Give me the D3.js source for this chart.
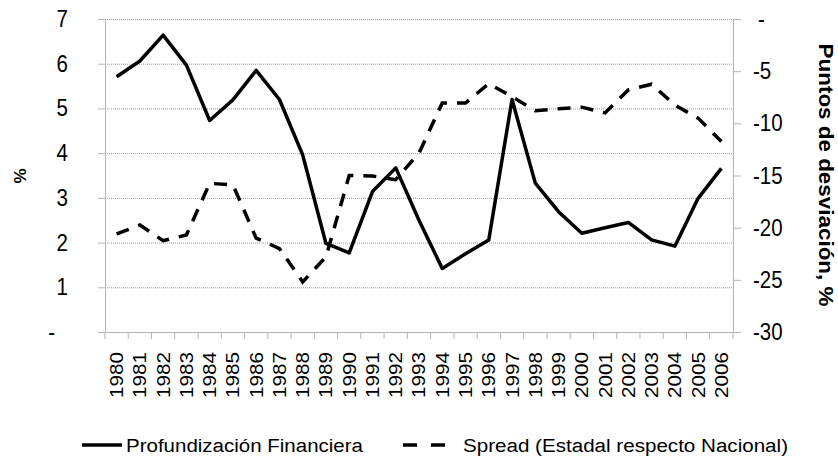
<!DOCTYPE html>
<html>
<head>
<meta charset="utf-8">
<script src="https://cdn.jsdelivr.net/npm/d3@7"></script>
<style>
  body { margin: 0; background: #fff; }
  svg { font-family: "Liberation Sans", Arial, sans-serif; }
  .axis .domain, .axis line { stroke: #b4b4b4; }
  .legend text { font-size: 18px; }
</style>
</head>
<body>
<div id="chart"></div>
<script>
// years on the x axis
const years = ["1980","1981","1982","1983","1984","1985","1986","1987","1988","1989",
               "1990","1991","1992","1993","1994","1995","1996","1997","1998","1999",
               "2000","2001","2002","2003","2004","2005","2006"];

// Profundización Financiera, % (left axis)
const profundizacion = [5.71, 6.06, 6.64, 5.97, 4.73, 5.19, 5.85, 5.2, 3.96, 1.98,
                        1.77, 3.14, 3.67, 2.5, 1.42, 1.75, 2.06, 5.2, 3.33, 2.69,
                        2.21, 2.33, 2.45, 2.06, 1.92, 2.99, 3.66];

// Spread (Estadal respecto Nacional), puntos de desviación (right axis)
const spread = [-20.6, -19.75, -21.25, -20.7, -15.75, -15.9, -21.0, -22.0, -25.2, -22.8,
                -15.0, -15.05, -15.4, -12.85, -8.05, -8.05, -6.2, -7.45, -8.8, -8.6,
                -8.45, -9.0, -6.8, -6.25, -8.25, -9.5, -11.75];

const leftTicks = [0, 1, 2, 3, 4, 5, 6, 7];
const rightTicks = [-30, -25, -20, -15, -10, -5, 0];

const width = 838, height = 459,
      margin = ({ top: 19, right: 105, bottom: 127, left: 105 });

const stretch = "scale(1,1.15)"; // the original picture is a bit taller than wide

let svg = d3.select("#chart")
    .append("svg")
    .attr("width", width)
    .attr("height", height);

let x = d3.scaleBand()
    .domain(years)
    .range([margin.left, width - margin.right]);

let yL = d3.scaleLinear()
    .domain([0, 7])
    .range([height - margin.bottom, margin.top]);

let yR = d3.scaleLinear()
    .domain([-30, 0])
    .range([height - margin.bottom, margin.top]);

// dotted gridlines
svg.append("g")
    .selectAll("line")
    .data(leftTicks.filter(d => d > 0))
    .join("line")
    .attr("x1", x.range()[0])
    .attr("x2", x.range()[1])
    .attr("y1", d => yL(d) + 0.5)
    .attr("y2", d => yL(d) + 0.5)
    .attr("stroke", "#9a9a9a")
    .attr("stroke-dasharray", "1,1");

// left axis
let gL = svg.append("g")
    .attr("class", "axis")
    .attr("transform", `translate(${margin.left},0)`)
    .call(d3.axisLeft(yL).tickValues(leftTicks).tickSize(7).tickPadding(30).tickSizeOuter(0)
        .tickFormat(d => d === 0 ? "-" : d));
gL.selectAll("text")
    .style("font-size", "20.5px")
    .attr("fill", "#000")
    .attr("transform", stretch)
    .attr("dx", d => d === 0 ? -13 : 0);

// right axis
let gR = svg.append("g")
    .attr("class", "axis")
    .attr("transform", `translate(${width - margin.right},0)`)
    .call(d3.axisRight(yR).tickValues(rightTicks).tickSize(8).tickPadding(12).tickSizeOuter(0)
        .tickFormat(d => d === 0 ? "-" : d));
gR.selectAll("text")
    .style("font-size", "20.5px")
    .attr("fill", "#000")
    .attr("transform", stretch)
    .attr("dx", d => d === 0 ? 5 : 0);

// bottom axis: labels at band centres, ticks at band edges
let gB = svg.append("g")
    .attr("class", "axis")
    .attr("transform", `translate(0,${height - margin.bottom})`)
    .call(d3.axisBottom(x).tickSize(0).tickSizeOuter(0));
gB.selectAll("text")
    .style("font-size", "18px")
    .attr("fill", "#000")
    .attr("text-anchor", "end")
    .attr("transform", `translate(0,20) ${stretch} rotate(-90)`)
    .attr("x", 0)
    .attr("y", 0)
    .attr("dy", "0.36em");
gB.selectAll(".edge")
    .data(years.map(d => x(d)).concat([x.range()[1]]))
    .join("line")
    .attr("class", "edge")
    .attr("x1", d => d)
    .attr("x2", d => d)
    .attr("y1", 0)
    .attr("y2", 7);

// lines
let cx = d => x(d) + x.bandwidth() / 2;

svg.append("path")
    .datum(profundizacion)
    .attr("fill", "none")
    .attr("stroke", "#000")
    .attr("stroke-width", 3.5)
    .attr("stroke-linejoin", "round")
    .attr("d", d3.line().x((d, i) => cx(years[i])).y(d => yL(d)));

svg.append("path")
    .datum(spread)
    .attr("fill", "none")
    .attr("stroke", "#000")
    .attr("stroke-width", 3.5)
    .attr("stroke-dasharray", "13,10")
    .attr("d", d3.line().x((d, i) => cx(years[i])).y(d => yR(d)));

// axis titles
svg.append("text")
    .attr("transform", "translate(26,176) rotate(-90)")
    .attr("text-anchor", "middle")
    .style("font-size", "17px")
    .style("font-weight", "bold")
    .text("%");

svg.append("text")
    .attr("transform", `translate(819,175) ${stretch} rotate(90)`)
    .attr("text-anchor", "middle")
    .style("font-size", "19.5px")
    .style("font-weight", "bold")
    .text("Puntos de desviación, %");

// legend
let legend = svg.append("g").attr("class", "legend");

legend.append("line")
    .attr("x1", 82).attr("x2", 122)
    .attr("y1", 445).attr("y2", 445)
    .attr("stroke", "#000").attr("stroke-width", 3.5);
legend.append("text")
    .attr("x", 126).attr("y", 452)
    .attr("textLength", 237)
    .attr("lengthAdjust", "spacingAndGlyphs")
    .text("Profundización Financiera");

legend.append("line")
    .attr("x1", 403).attr("x2", 445)
    .attr("y1", 445).attr("y2", 445)
    .attr("stroke", "#000").attr("stroke-width", 3.5)
    .attr("stroke-dasharray", "14,14");
legend.append("text")
    .attr("x", 463).attr("y", 452)
    .attr("textLength", 325)
    .attr("lengthAdjust", "spacingAndGlyphs")
    .text("Spread (Estadal respecto Nacional)");
</script>
</body>
</html>
